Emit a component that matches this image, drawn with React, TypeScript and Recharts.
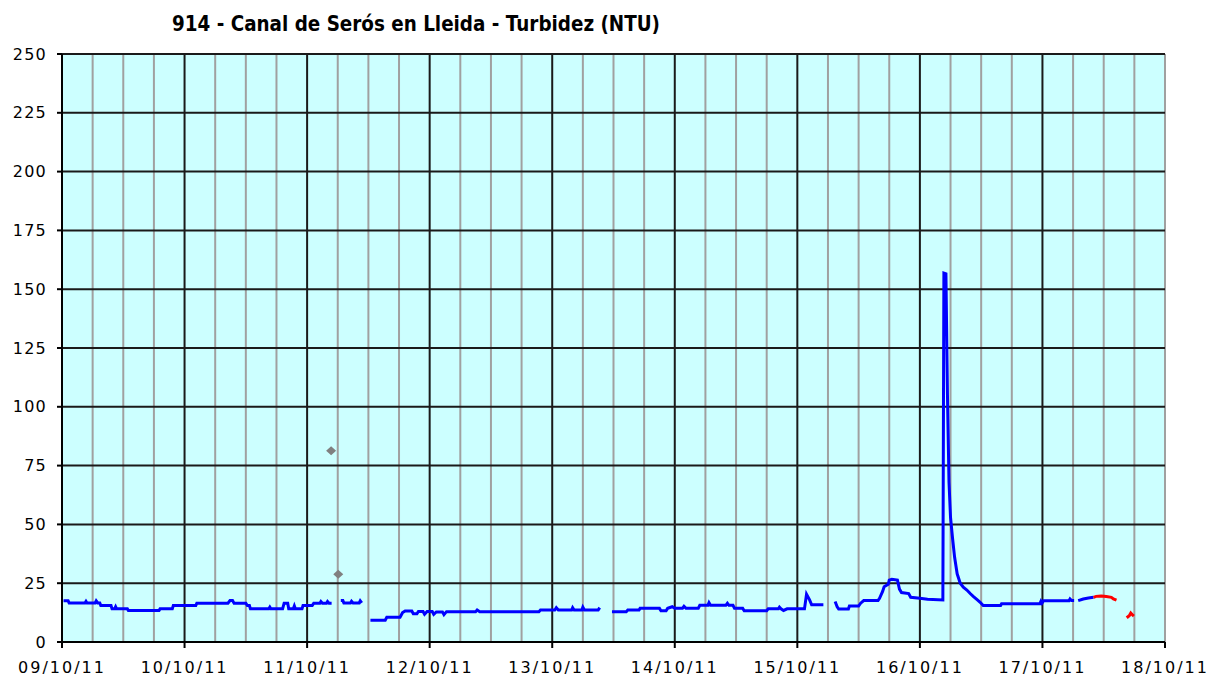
import React from "react";
import {
  CartesianGrid,
  ComposedChart,
  Line,
  ReferenceLine,
  Scatter,
  XAxis,
  YAxis,
} from "recharts";

// hours since 09/10/11 00:00
const DAY_TICKS = [0, 24, 48, 72, 96, 120, 144, 168, 192, 216];
const DAY_LABELS = [
  "09/10/11", "10/10/11", "11/10/11", "12/10/11", "13/10/11",
  "14/10/11", "15/10/11", "16/10/11", "17/10/11", "18/10/11",
];
const MAJOR_GRID = [24, 48, 72, 96, 120, 144, 168, 192];
const MINOR_GRID = [
  6, 12, 18, 30, 36, 42, 54, 60, 66, 78, 84, 90, 102, 108, 114,
  126, 132, 138, 150, 156, 162, 174, 180, 186, 198, 204, 210, 216,
];
const Y_TICKS = [0, 25, 50, 75, 100, 125, 150, 175, 200, 225, 250];
const Y_GRID = [25, 50, 75, 100, 125, 150, 175, 200, 225, 250];

// turbidity (NTU), [hour, value]; null value = gap in the record
const BLUE: [number, number | null][] = [
  [0.3, 17.5], [1.2, 17.5], [1.4, 16.6], [4.5, 16.6], [4.7, 17.3], [4.9, 16.6],
  [6.5, 16.6], [6.7, 17.5], [7.0, 16.6], [7.4, 16.6], [7.6, 15.5], [9.6, 15.5],
  [9.8, 14.1], [10.3, 14.1], [10.5, 15], [10.7, 14.1], [12.8, 14.1], [13.0, 13.4],
  [19.0, 13.4], [19.2, 14.1], [21.6, 14.1], [21.8, 15.5], [26.2, 15.5], [26.4, 16.5],
  [32.5, 16.5], [32.9, 17.6], [33.4, 17.6], [33.7, 16.5], [36.0, 16.5], [36.3, 15.5],
  [36.7, 15.5], [36.9, 14.1], [40.5, 14.1], [40.7, 14.8], [40.9, 14.1], [43.2, 14.1],
  [43.5, 16.5], [44.2, 16.5], [44.4, 14.1], [45.3, 14.1], [45.5, 15.3], [45.7, 14.1],
  [47.0, 14.1], [47.2, 15.5], [49.0, 15.5], [49.3, 16.5], [50.5, 16.5], [50.7, 17.2],
  [51.0, 16.5], [51.8, 16.5], [52.0, 17.2], [52.3, 16.5], [52.8, 16.5],
  [53.7, null],
  [54.6, 17.6], [55.0, 17.6], [55.2, 16.6], [56.5, 16.6], [56.7, 17.3], [57.0, 16.6],
  [58.2, 16.6], [58.4, 17.5], [58.7, 16.6],
  [59.5, null],
  [60.4, 9.3], [63.3, 9.3], [63.6, 10.5], [66.2, 10.5], [66.7, 12.5], [67.2, 13.2],
  [68.5, 13.2], [68.8, 12.0], [69.5, 12.0], [69.8, 13.0], [70.7, 13.0], [71.0, 11.8],
  [71.5, 13.0], [72.5, 13.0], [72.8, 11.8], [73.3, 12.8], [74.5, 12.8], [74.8, 11.6],
  [75.3, 12.9], [81.0, 12.9], [81.3, 13.6], [81.8, 12.9], [93.4, 12.9], [93.7, 13.6],
  [96.5, 13.6], [96.8, 14.6], [97.2, 13.6], [99.8, 13.6], [100.0, 14.6], [100.3, 13.6],
  [101.8, 13.6], [102.0, 14.8], [102.3, 13.6], [105.0, 13.6], [105.3, 14.6],
  [106.5, null],
  [107.7, 12.9], [110.5, 12.9], [110.8, 13.6], [113.0, 13.6], [113.2, 14.3],
  [117.0, 14.3], [117.3, 13.3], [118.3, 13.3], [118.6, 14.3], [119.5, 15.0],
  [120.0, 14.3], [121.5, 14.3], [121.8, 15.2], [122.2, 14.3], [124.6, 14.3],
  [124.9, 15.6], [126.5, 15.6], [126.7, 16.7], [127.0, 15.6], [130.0, 15.6],
  [130.3, 16.5], [130.6, 15.6], [131.4, 15.6], [131.7, 14.3], [133.3, 14.3],
  [133.6, 13.3], [138.0, 13.3], [138.3, 14.1], [140.3, 14.1], [140.5, 14.8],
  [140.8, 14.1], [141.3, 13.4], [142.0, 14.1], [145.4, 14.1], [145.8, 20.3],
  [146.4, 17.9], [146.8, 15.8], [149.1, 15.8],
  [150.2, null],
  [151.4, 17.2], [151.8, 15.0], [152.1, 14.0], [154.0, 14.0], [154.2, 15.3],
  [156.0, 15.3], [156.4, 16.5], [157.0, 17.6], [159.8, 17.6], [160.1, 18.6],
  [160.7, 21.5], [161.0, 23.5], [161.8, 24.5], [162.0, 26.3], [162.5, 26.7],
  [163.6, 26.3], [164.0, 22.5], [164.4, 21.0], [165.8, 20.6], [166.2, 19.0],
  [168.0, 18.6], [169.5, 18.2], [172.5, 17.9], [172.7, 156.8], [173.1, 156.5],
  [173.4, 105], [173.7, 68], [174.0, 53], [174.4, 44], [174.8, 36], [175.3, 29],
  [175.9, 25], [176.5, 23.3], [177.2, 22.1], [177.9, 20.5], [178.5, 19.3], [179.2, 18],
  [179.8, 16.9], [180.4, 15.5], [183.8, 15.5], [184.0, 16.3], [191.5, 16.3],
  [191.7, 17.3], [191.9, 16.5], [192.2, 17.5], [197.2, 17.5], [197.4, 18.3],
  [197.7, 17.6], [198.2, 17.6],
  [198.6, null],
  [199.0, 17.6], [200.0, 18.3], [201.0, 18.7], [202.0, 19.0],
];

// flagged / provisional values drawn in red
const RED: [number, number | null][] = [
  [202.0, 19.0], [202.5, 19.4], [203.5, 19.6], [204.5, 19.3], [205.5, 19.0],
  [205.9, 18.3], [206.5, 17.8],
  [207.5, null],
  [208.5, 10.3], [209.0, 11.2], [209.3, 12.3], [209.7, 11.4], [209.9, 11.0],
];

// isolated readings (grey markers)
const POINT_HOURS = [52.7, 54.1];
const POINT_VALUES = [81.3, 28.8];

const toRows = (pts: [number, number | null][]) => pts.map(([h, v]) => ({ h, v }));

const blueData = toRows(BLUE);
const redData = toRows(RED);
const pointData = POINT_HOURS.map((h, i) => ({ h, v: POINT_VALUES[i] }));

const FONT = "'DejaVu Sans', Verdana, sans-serif";
const tickStyle = { fill: "#000", fontSize: 16, fontFamily: FONT, letterSpacing: 2 };
const yTickStyle = { fill: "#000", fontSize: 16, fontFamily: FONT, letterSpacing: 1.2 };

// Excel-style squat diamond marker, centred on the point recharts computed
function Diamond(props: any) {
  const { cx, cy } = props;
  if (cx == null || cy == null) return null;
  return (
    <polygon
      points={`${cx - 5},${cy} ${cx},${cy - 4.5} ${cx + 5},${cy} ${cx},${cy + 4.5}`}
      fill="#808080"
    />
  );
}

export default function App() {
  return (
    <div
      style={{
        position: "absolute",
        left: 0,
        top: 0,
        width: 1221,
        height: 682,
        background: "#fff",
        fontFamily: FONT,
      }}
    >
      <svg
        width={1221}
        height={45}
        style={{ position: "absolute", left: 0, top: 0 }}
      >
        <text
          x={172}
          y={31}
          textLength={488}
          lengthAdjust="spacingAndGlyphs"
          fontFamily="'DejaVu Sans', sans-serif"
          fontWeight="bold"
          fontSize={22}
          fill="#000"
        >
          914 - Canal de Serós en Lleida - Turbidez (NTU)
        </text>
      </svg>
      <ComposedChart
        width={1221}
        height={682}
        margin={{ top: 54, right: 56, bottom: 0, left: 0 }}
        style={{ position: "absolute", left: 0, top: 0 }}
      >
        <XAxis
          type="number"
          dataKey="h"
          domain={[0, 216]}
          ticks={DAY_TICKS}
          tickFormatter={(v: number) => DAY_LABELS[Math.round(v / 24)]}
          height={40}
          tick={tickStyle}
          tickSize={6}
          tickMargin={14}
          axisLine={{ stroke: "#000", strokeWidth: 2 }}
          tickLine={{ stroke: "#000", strokeWidth: 2 }}
          interval={0}
          allowDataOverflow
        />
        <YAxis
          type="number"
          domain={[0, 250]}
          ticks={Y_TICKS}
          width={62}
          tick={yTickStyle}
          tickSize={5}
          tickMargin={10}
          interval={0}
          axisLine={{ stroke: "#000", strokeWidth: 2 }}
          tickLine={{ stroke: "#000", strokeWidth: 2 }}
          allowDataOverflow
        />
        <CartesianGrid horizontal={false} vertical={false} fill="#ccffff" fillOpacity={1} />
        {MINOR_GRID.map((h) => (
          <ReferenceLine key={`m${h}`} x={h} stroke="#a0a0a0" strokeWidth={2} />
        ))}
        {MAJOR_GRID.map((h) => (
          <ReferenceLine key={`d${h}`} x={h} stroke="#1a1a1a" strokeWidth={2} />
        ))}
        {Y_GRID.map((v) => (
          <ReferenceLine key={`y${v}`} y={v} stroke="#1a1a1a" strokeWidth={2} />
        ))}
        <Line
          data={blueData}
          dataKey="v"
          type="linear"
          stroke="#0000ff"
          strokeWidth={3}
          dot={false}
          isAnimationActive={false}
          connectNulls={false}
        />
        <Line
          data={redData}
          dataKey="v"
          type="linear"
          stroke="#ff0000"
          strokeWidth={3}
          dot={false}
          isAnimationActive={false}
          connectNulls={false}
        />
        <Scatter
          data={pointData}
          dataKey="v"
          shape={Diamond}
          fill="#808080"
          isAnimationActive={false}
        />
      </ComposedChart>
    </div>
  );
}
